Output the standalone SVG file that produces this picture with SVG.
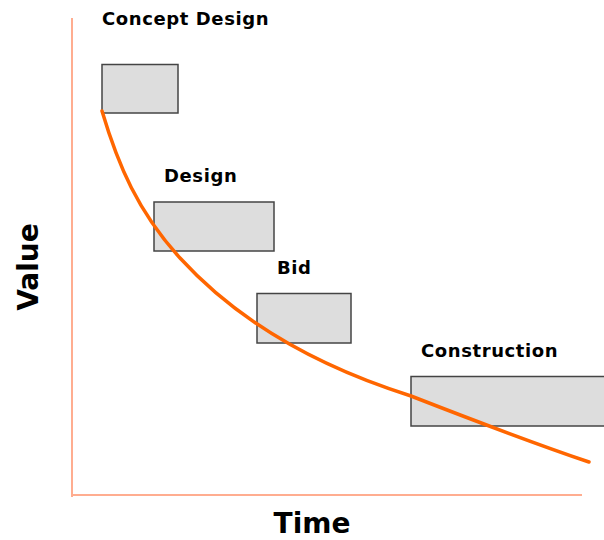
<svg xmlns="http://www.w3.org/2000/svg" width="604" height="540" viewBox="0 0 604 540">
  <style>
    .axis { stroke: #FFAD90; stroke-width: 2; fill: none; }
    .phase rect { fill: #DDDDDD; stroke: #444444; stroke-width: 1.5; }
    .lbl { font-family: "DejaVu Sans", Verdana, sans-serif; font-weight: bold; font-size: 18px; fill: #000; letter-spacing: 0.6px; }
    .axlbl { font-family: "DejaVu Sans", Verdana, sans-serif; font-weight: bold; font-size: 28px; fill: #000; }
    .curve { stroke: #FF6600; stroke-width: 3.5; fill: none; stroke-linecap: round; }
  </style>
  <rect width="604" height="540" fill="#FFFFFF"/>

  <!-- axes -->
  <g id="axes">
    <line class="axis" x1="72" y1="18" x2="72" y2="497"/>
    <line class="axis" x1="72" y1="495" x2="582" y2="495"/>
    <text class="axlbl" x="312" y="533" text-anchor="middle">Time</text>
    <text class="axlbl" transform="translate(38,267) rotate(-90)" text-anchor="middle">Value</text>
  </g>

  <!-- project phases -->
  <g id="concept-design" class="phase">
    <rect x="102" y="64.5" width="76" height="48.5"/>
    <text class="lbl" x="102" y="25">Concept Design</text>
  </g>
  <g id="design" class="phase">
    <rect x="154" y="202" width="120" height="49"/>
    <text class="lbl" x="164" y="182">Design</text>
  </g>
  <g id="bid" class="phase">
    <rect x="257" y="293.5" width="94" height="49.5"/>
    <text class="lbl" x="277" y="274">Bid</text>
  </g>
  <g id="construction" class="phase">
    <rect x="411" y="376.5" width="200" height="49.5"/>
    <text class="lbl" x="421" y="357">Construction</text>
  </g>

  <!-- value curve -->
  <g id="connectors">
    <path class="curve" d="M102,111 C118,165 138,212 180,258 C222,304 290,358 411,396 C470,419 530,442 589,462"/>
  </g>
</svg>
